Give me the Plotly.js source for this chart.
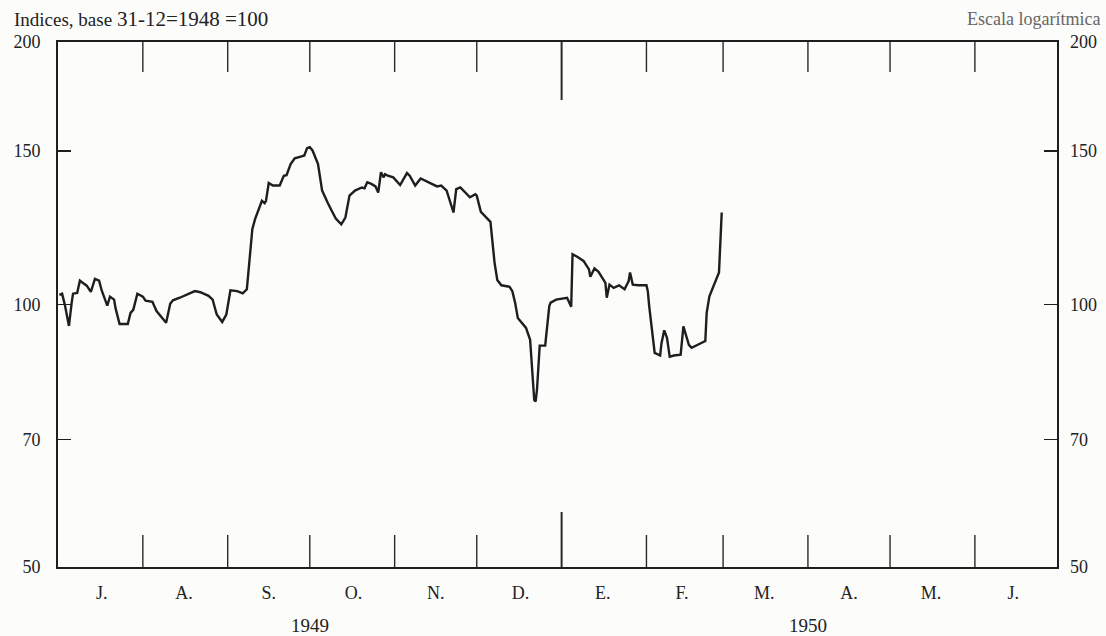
<!DOCTYPE html>
<html>
<head>
<meta charset="utf-8">
<script src="https://cdn.plot.ly/plotly-3.0.1.min.js"></script>
<style>
  html, body { margin: 0; padding: 0; background: #fcfcfb; }
  #chart { width: 1106px; height: 636px; }
</style>
</head>
<body>
<div id="chart"></div>
<script>
// ---- data ----
const dates = [
  '1949-07-01 12:00','1949-07-02 12:00','1949-07-03 12:00','1949-07-05','1949-07-06','1949-07-06 12:00',
  '1949-07-08','1949-07-09','1949-07-10','1949-07-11 12:00','1949-07-13','1949-07-14 12:00','1949-07-16',
  '1949-07-17','1949-07-19','1949-07-20','1949-07-21 12:00','1949-07-22','1949-07-23 12:00','1949-07-26 12:00',
  '1949-07-27 12:00','1949-07-28 12:00','1949-07-30','1949-08-01','1949-08-02','1949-08-04 12:00','1949-08-06',
  '1949-08-09 12:00','1949-08-11','1949-08-12','1949-08-14 12:00','1949-08-17','1949-08-20','1949-08-22',
  '1949-08-25','1949-08-26 12:00','1949-08-28','1949-08-30','1949-08-31 12:00','1949-09-02','1949-09-04 12:00',
  '1949-09-06 12:00','1949-09-08','1949-09-10','1949-09-11','1949-09-13 12:00','1949-09-14 12:00','1949-09-15',
  '1949-09-16','1949-09-17 12:00','1949-09-20','1949-09-21 12:00','1949-09-22 12:00','1949-09-24','1949-09-25 12:00',
  '1949-09-28','1949-09-29','1949-09-30','1949-10-01','1949-10-02','1949-10-04','1949-10-05 12:00','1949-10-06 12:00',
  '1949-10-07 12:00','1949-10-09','1949-10-10 12:00','1949-10-12 12:00','1949-10-14','1949-10-15 12:00',
  '1949-10-17 12:00','1949-10-20','1949-10-21','1949-10-22','1949-10-23 12:00','1949-10-25','1949-10-26',
  '1949-10-27','1949-10-28','1949-10-28 12:00','1949-10-29 12:00','1949-10-31 12:00','1949-11-03','1949-11-05 12:00',
  '1949-11-06 12:00','1949-11-08 12:00','1949-11-10 12:00','1949-11-14','1949-11-16 12:00','1949-11-18','1949-11-20',
  '1949-11-22 12:00','1949-11-23 12:00','1949-11-25','1949-11-26','1949-11-28 12:00','1949-11-30 12:00','1949-12-01',
  '1949-12-02 12:00','1949-12-05','1949-12-06','1949-12-07 12:00','1949-12-08 12:00','1949-12-10','1949-12-13',
  '1949-12-14','1949-12-15','1949-12-16','1949-12-17 12:00','1949-12-19','1949-12-20 12:00','1949-12-22',
  '1949-12-22 12:00','1949-12-23','1949-12-24','1949-12-26','1949-12-27 12:00','1949-12-28','1949-12-30',
  '1950-01-03','1950-01-04 12:00','1950-01-05','1950-01-07','1950-01-09','1950-01-11','1950-01-11 12:00',
  '1950-01-13','1950-01-14 12:00','1950-01-17','1950-01-17 12:00','1950-01-18 12:00','1950-01-20','1950-01-22',
  '1950-01-24','1950-01-25 12:00','1950-01-26','1950-01-27','1950-01-29','1950-02-01','1950-02-01 12:00',
  '1950-02-02','1950-02-03 12:00','1950-02-04','1950-02-06','1950-02-06 12:00','1950-02-07 12:00','1950-02-08 12:00',
  '1950-02-09 12:00','1950-02-11','1950-02-13 12:00','1950-02-14','1950-02-14 12:00','1950-02-16 12:00',
  '1950-02-17 12:00','1950-02-22 12:00','1950-02-23','1950-02-24','1950-02-26 12:00','1950-02-27 12:00','1950-02-28 12:00'
];
const indexValues = [
  102.6,102.9,99.9,94.5,100.5,102.9,
  103.1,106.5,105.9,105.1,103.4,107.0,106.5,
  103.7,99.7,102.1,101.3,99.1,95.0,95.0,
  97.8,98.6,102.9,102.1,101.0,100.7,98.3,
  95.3,100.2,101.1,101.8,102.7,103.6,103.3,
  102.3,101.3,97.4,95.5,97.4,103.8,103.6,
  103.0,104.1,122.0,125.3,131.5,130.7,131.5,
  137.8,136.9,136.9,140.5,140.7,144.9,147.1,
  147.9,148.2,151.1,151.5,150.2,144.9,135.1,132.7,
  130.9,128.1,125.5,123.6,125.8,133.3,
  135.1,136.2,135.9,138.1,137.5,136.6,134.4,
  141.8,139.9,141.1,140.5,139.9,137.1,141.5,
  140.5,136.9,139.5,137.8,136.6,136.9,135.1,
  127.5,135.6,136.2,135.1,132.7,133.8,133.3,
  127.7,125.3,124.4,111.7,106.7,105.2,104.8,
  103.6,100.5,96.5,95.3,94.0,91.1,77.7,
  77.4,79.8,89.7,89.7,99.6,100.5,101.3,
  101.8,99.4,114.2,113.3,112.2,109.7,107.6,
  110.0,109.0,105.9,101.8,105.4,104.5,105.2,
  104.1,106.4,108.8,105.4,105.2,105.2,103.6,
  99.6,90.3,88.0,87.4,90.3,93.4,91.6,
  87.1,87.4,87.6,91.0,94.4,89.9,
  89.2,90.8,97.8,102.2,106.9,108.8,127.5
];
const baseValue = 100;
const yTicks = [50, 70, 100, 150, 200];
const yTickText = ['50', '70', '100', '150', '200'];
const monthStarts = ['1949-08-01','1949-09-01','1949-10-01','1949-11-01','1949-12-01',
                     '1950-01-01','1950-02-01','1950-03-01','1950-04-01','1950-05-01','1950-06-01'];
const yearBoundary = '1950-01-01';
const monthMids = ['1949-07-17','1949-08-16','1949-09-16','1949-10-17','1949-11-16','1949-12-17',
                   '1950-01-16','1950-02-14','1950-03-16','1950-04-16','1950-05-16','1950-06-15'];
const monthLabels = ['J.','A.','S.','O.','N.','D.','E.','F.','M.','A.','M.','J.'];
const yearLabels = ['1949', '1950'];
const yearMids = ['1949-10-01', '1950-04-01'];
const xRange = ['1949-07-01', '1950-07-01'];

// ---- drawing ----
const FONT = 'Liberation Serif, DejaVu Serif, serif';
const INK = '#1e1e1e';
const plotH = 525;

const shapes = [];
monthStarts.forEach(function (d) {
  const big = d === yearBoundary;
  const lenBottom = big ? 55 : 32;
  const lenTop = big ? 58 : 30;
  shapes.push({type: 'line', xref: 'x', yref: 'paper', x0: d, x1: d, y0: 0, y1: lenBottom / plotH,
               line: {color: '#2a2a2a', width: big ? 2 : 1.4}});
  shapes.push({type: 'line', xref: 'x', yref: 'paper', x0: d, x1: d, y0: 1, y1: 1 - lenTop / plotH,
               line: {color: '#2a2a2a', width: big ? 2 : 1.4}});
});
// reference line at base 100
shapes.push({type: 'line', xref: 'paper', yref: 'y', x0: 0, x1: 1,
             y0: Math.log10(baseValue), y1: Math.log10(baseValue),
             line: {color: '#333', width: 1.3}});

const annotations = [
  {xref: 'paper', yref: 'paper', x: -0.046, y: 1.044, xanchor: 'left', yanchor: 'middle', showarrow: false,
   text: 'Indices, base <span style="font-size:21px">31-12=1948 =100</span>',
   font: {family: FONT, size: 19, color: '#222'}},
  {xref: 'paper', yref: 'paper', x: 1.045, y: 1.044, xanchor: 'right', yanchor: 'middle', showarrow: false,
   text: 'Escala logarítmica', font: {family: FONT, size: 18, color: '#666'}}
];
yearLabels.forEach(function (t, i) {
  annotations.push({xref: 'x', yref: 'paper', x: yearMids[i], y: -0.112, xanchor: 'center', yanchor: 'middle',
                    showarrow: false, text: t, font: {family: FONT, size: 19, color: '#222'}});
});

const traces = [
  {x: dates, y: indexValues, type: 'scatter', mode: 'lines',
   line: {color: INK, width: 2.4}, hoverinfo: 'x+y', showlegend: false},
  {x: dates, y: indexValues, type: 'scatter', mode: 'lines', yaxis: 'y2',
   line: {color: INK, width: 0}, opacity: 0, hoverinfo: 'skip', showlegend: false}
];

const layout = {
  width: 1106, height: 636,
  margin: {l: 58, r: 49, t: 42, b: 69},
  paper_bgcolor: '#fcfcfb', plot_bgcolor: '#fcfcfb',
  font: {family: FONT, color: '#222'},
  showlegend: false,
  xaxis: {
    type: 'date', range: xRange, autorange: false,
    tickvals: monthMids, ticktext: monthLabels, ticks: '',
    tickfont: {family: FONT, size: 18, color: '#222'},
    ticklabelstandoff: 8,
    showline: true, linewidth: 2, linecolor: INK, mirror: true,
    showgrid: false, zeroline: false
  },
  yaxis: {
    type: 'log', range: [Math.log10(50), Math.log10(200)], autorange: false,
    tickvals: yTicks, ticktext: yTickText,
    ticks: 'inside', ticklen: 13, tickwidth: 1.5, tickcolor: INK,
    tickfont: {family: FONT, size: 18, color: '#222'},
    ticklabelstandoff: 12,
    showline: true, linewidth: 2, linecolor: INK, mirror: 'ticks',
    showgrid: false, zeroline: false
  },
  yaxis2: {
    type: 'log', range: [Math.log10(50), Math.log10(200)], autorange: false,
    overlaying: 'y', side: 'right',
    tickvals: yTicks, ticktext: yTickText, ticks: '',
    tickfont: {family: FONT, size: 18, color: '#222'},
    ticklabelstandoff: 12,
    showline: false, showgrid: false, zeroline: false
  },
  shapes: shapes,
  annotations: annotations
};

Plotly.newPlot('chart', traces, layout, {displayModeBar: false, staticPlot: true});
</script>
</body>
</html>
